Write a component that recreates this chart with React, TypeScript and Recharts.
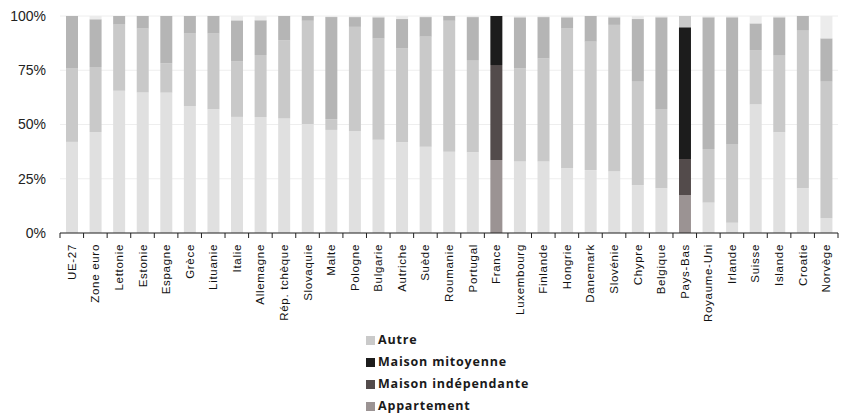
import React from 'react';
import { BarChart, Bar, XAxis, YAxis, CartesianGrid, Legend, Cell } from 'recharts';

// Répartition des logements par type (% du parc)
const categories = [
  'UE-27', 'Zone euro', 'Lettonie', 'Estonie', 'Espagne', 'Grèce', 'Lituanie', 'Italie',
  'Allemagne', 'Rép. tchèque', 'Slovaquie', 'Malte', 'Pologne', 'Bulgarie', 'Autriche', 'Suède',
  'Roumanie', 'Portugal', 'France', 'Luxembourg', 'Finlande', 'Hongrie', 'Danemark', 'Slovénie',
  'Chypre', 'Belgique', 'Pays-Bas', 'Royaume-Uni', 'Irlande', 'Suisse', 'Islande', 'Croatie', 'Norvège',
];

const appartement = [
  42, 46.5, 65.5, 64.7, 64.7, 58.5, 57, 53.5,
  53.5, 52.8, 50.2, 47.5, 47, 43, 41.8, 39.8,
  37.5, 37.2, 33.6, 32.9, 32.9, 29.8, 29, 28.3,
  22.1, 20.6, 17.5, 14, 4.7, 59.3, 46.4, 20.6, 6.8,
];

const maisonIndependante = [
  34, 30, 30.5, 29.6, 13.5, 33.5, 35, 25.5,
  28.5, 36, 47.6, 5, 48, 46.7, 43.3, 50.7,
  60.3, 42.5, 43.8, 43, 47.6, 64.5, 59.2, 67.6,
  47.9, 36.5, 16.6, 24.7, 36.3, 25, 35.6, 72.9, 63.2,
];

const maisonMitoyenne = [
  24, 22, 4, 5.7, 21.8, 8, 8, 19,
  16, 11.2, 2.2, 47, 4.5, 9.7, 13.5, 9,
  2.2, 19.8, 22.6, 23.5, 19, 5.1, 11.8, 3.5,
  28.6, 42.3, 60.7, 60.7, 58.4, 12.3, 17.4, 6.5, 19.7,
];

const autre = [
  0, 1.5, 0, 0, 0, 0, 0, 2,
  2, 0, 0, 0.5, 0.5, 0.6, 1.4, 0.5,
  0, 0.5, 0, 0.6, 0.5, 0.6, 0, 0.6,
  1.4, 0.6, 5.2, 0.6, 0.6, 3.4, 0.6, 0, 10.3,
];

const yTicks = [0, 25, 50, 75, 100];

// Pays mis en avant dans des teintes foncées
const highlighted = ['France', 'Pays-Bas'];

const data = categories.map((name, i) => ({
  name,
  appartement: appartement[i],
  maisonIndependante: maisonIndependante[i],
  maisonMitoyenne: maisonMitoyenne[i],
  autre: autre[i],
}));

type SeriesKey = 'appartement' | 'maisonIndependante' | 'maisonMitoyenne' | 'autre';

const series: { key: SeriesKey; label: string; dark: string; light: string }[] = [
  { key: 'appartement', label: 'Appartement', dark: '#9b9393', light: '#e0e0e0' },
  { key: 'maisonIndependante', label: 'Maison indépendante', dark: '#534b4b', light: '#c9c9c9' },
  { key: 'maisonMitoyenne', label: 'Maison mitoyenne', dark: '#1c1c1c', light: '#b5b5b5' },
  { key: 'autre', label: 'Autre', dark: '#cacaca', light: '#ececec' },
];

const CHART_W = 841;
const CHART_H = 414;
const MARGIN = { top: 16, right: 3, bottom: 0, left: 0 };
const Y_AXIS_W = 60;
const PLOT_W = CHART_W - MARGIN.left - MARGIN.right - Y_AXIS_W;
const BAND = PLOT_W / categories.length;

const FONT = '"Liberation Sans", Arial, sans-serif';

const CategoryTick = (props: any) => {
  const { x, y, payload, index } = props;
  const left = x - BAND / 2;
  const isLast = index === categories.length - 1;
  return (
    <g>
      <line x1={left} y1={y} x2={left} y2={y + 5} stroke="#222" strokeWidth={1} />
      {isLast && <line x1={x + BAND / 2} y1={y} x2={x + BAND / 2} y2={y + 5} stroke="#222" strokeWidth={1} />}
      <text
        x={0}
        y={0}
        transform={`translate(${x},${y + 11}) rotate(-90)`}
        textAnchor="end"
        dominantBaseline="central"
        fontFamily={FONT}
        fontSize={11.5}
        letterSpacing={0.7}
        fill="#111"
      >
        {payload.value}
      </text>
    </g>
  );
};

const legendOrder = ['autre', 'maisonMitoyenne', 'maisonIndependante', 'appartement'];

const LegendContent = () => (
  <div style={{ paddingLeft: 366, height: 88 }}>
    {legendOrder.map((k) => {
      const s = series.find((e) => e.key === k)!;
      return (
        <div key={k} style={{ display: 'flex', alignItems: 'center', height: 22 }}>
          <span style={{ width: 9, height: 9, background: s.dark, display: 'inline-block', marginRight: 3 }} />
          <span
            style={{
              fontFamily: '"Open Sans", sans-serif',
              fontWeight: 700,
              fontSize: 12.5,
              letterSpacing: 0.8,
              color: '#1a1a1a',
              lineHeight: '22px',
            }}
          >
            {s.label}
          </span>
        </div>
      );
    })}
  </div>
);

export default function App() {
  return (
    <div style={{ position: 'absolute', left: 0, top: 0, width: CHART_W, height: CHART_H, background: '#fff', overflow: 'hidden' }}>
      <BarChart width={CHART_W} height={CHART_H} data={data} margin={MARGIN} barSize={12}>
        <CartesianGrid vertical={false} stroke="#eeeeee" />
        <XAxis
          dataKey="name"
          interval={0}
          height={93}
          tickLine={false}
          tickSize={0}
          tickMargin={0}
          axisLine={{ stroke: '#222' }}
          tick={<CategoryTick />}
        />
        <YAxis
          width={Y_AXIS_W}
          domain={[0, 100]}
          ticks={yTicks}
          tickFormatter={(v: number) => `${v}%`}
          axisLine={false}
          tickLine={false}
          tickSize={6}
          tickMargin={8}
          tick={{ fontFamily: FONT, fontSize: 14, fill: '#222' }}
          allowDataOverflow
        />
        {series.map((s) => (
          <Bar key={s.key} dataKey={s.key} name={s.label} stackId="a" isAnimationActive={false}>
            {categories.map((c) => (
              <Cell key={c} fill={highlighted.includes(c) ? s.dark : s.light} />
            ))}
          </Bar>
        ))}
        <Legend
          verticalAlign="bottom"
          align="left"
          wrapperStyle={{ bottom: -3 }}
          content={<LegendContent />}
        />
      </BarChart>
    </div>
  );
}
